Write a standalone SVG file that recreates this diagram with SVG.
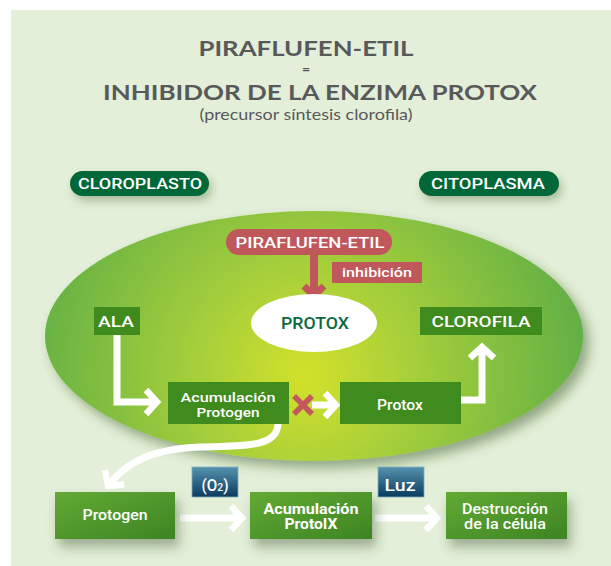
<svg xmlns="http://www.w3.org/2000/svg" width="611" height="566" viewBox="0 0 611 566">
<style>
.title{font-family:Lato,"Open Sans","Liberation Sans",sans-serif;font-weight:700;fill:#58595b;text-anchor:middle}
.sub{font-family:Lato,"Open Sans","Liberation Sans",sans-serif;font-weight:400;fill:#58595b;text-anchor:middle}
.lbl{font-family:Roboto,"Liberation Sans",sans-serif;font-weight:500;fill:#fff;text-anchor:middle}
.lblb{font-family:Roboto,"Liberation Sans",sans-serif;font-weight:700;fill:#fff;text-anchor:middle}
.arrow{fill:none;stroke:#fff;stroke-width:7;marker-end:url(#chev)}
.box{fill:#3f8b1d}
.bbox{fill:url(#boxg);filter:url(#bsh)}
</style>
<defs>
<radialGradient id="cellg" gradientUnits="userSpaceOnUse" cx="305" cy="375" r="290">
<stop offset="0" stop-color="#d2e12a"/>
<stop offset="0.35" stop-color="#a9d03a"/>
<stop offset="1" stop-color="#5fae46"/>
</radialGradient>
<linearGradient id="boxg" x1="0" y1="0" x2="1" y2="1">
<stop offset="0" stop-color="#62aa33"/>
<stop offset="1" stop-color="#3d8424"/>
</linearGradient>
<linearGradient id="blueg" x1="0" y1="0" x2="0" y2="1">
<stop offset="0" stop-color="#5593ae"/>
<stop offset="1" stop-color="#0a3a60"/>
</linearGradient>
<filter id="esh" x="-10%" y="-10%" width="125%" height="130%">
<feDropShadow dx="6" dy="7" stdDeviation="6" flood-color="#2c4f1c" flood-opacity="0.45"/>
</filter>
<filter id="psh" x="-20%" y="-50%" width="150%" height="250%">
<feDropShadow dx="3" dy="5" stdDeviation="4" flood-color="#3a5a2a" flood-opacity="0.35"/>
</filter>
<filter id="bsh" x="-20%" y="-30%" width="160%" height="200%">
<feDropShadow dx="4" dy="8" stdDeviation="6" flood-color="#2e4a22" flood-opacity="0.4"/>
</filter>
<marker id="chev" markerUnits="userSpaceOnUse" markerWidth="40" markerHeight="40" viewBox="-20 -20 40 40" refX="0" refY="0" orient="auto">
<path d="M -11 -12 L 0 0 L -11 12" fill="none" stroke="#fff" stroke-width="6.5" stroke-linejoin="miter"/>
</marker>
</defs>

<rect x="11" y="10" width="600" height="556" fill="#e3efd8"/>

<g id="title">
<text class="title" x="306" y="56" font-size="20" textLength="215" lengthAdjust="spacingAndGlyphs">PIRAFLUFEN-ETIL</text>
<text class="title" x="306" y="74" font-size="14">=</text>
<text class="title" x="320" y="100" font-size="21" textLength="434" lengthAdjust="spacingAndGlyphs">INHIBIDOR DE LA ENZIMA PROTOX</text>
<text class="sub" x="306" y="120" font-size="16" textLength="213" lengthAdjust="spacingAndGlyphs">(precursor síntesis clorofila)</text>
</g>

<g id="cloroplasto">
<rect x="70" y="171" width="139" height="25" rx="12.5" fill="#066737" filter="url(#psh)"/>
<text class="lbl" x="140" y="189" font-size="15" textLength="124" lengthAdjust="spacingAndGlyphs">CLOROPLASTO</text>
</g>
<g id="citoplasma">
<rect x="419" y="171" width="140" height="25" rx="12.5" fill="#066737" filter="url(#psh)"/>
<text class="lbl" x="488" y="189" font-size="15" textLength="114" lengthAdjust="spacingAndGlyphs">CITOPLASMA</text>
</g>

<g id="cell">
<ellipse cx="314" cy="336" rx="269" ry="125" fill="url(#cellg)" filter="url(#esh)"/>
</g>

<g id="connectors">
<path class="arrow" d="M 117 335 V 402 H 157"/>
<path class="arrow" d="M 312 405 H 336"/>
<path class="arrow" d="M 461 400 H 482 V 347"/>
<path class="arrow" stroke-width="8" d="M 278 423 C 278 446 250 446 200 447 C 152 449 126 462 108 486"/>
<path class="arrow" stroke-width="8" d="M 180 518 H 242"/>
<path class="arrow" stroke-width="8" d="M 375 518 H 437"/>
<path d="M 314 254 V 296" fill="none" stroke="#c0585b" stroke-width="8"/>
<path d="M 304 286 L 314 296 L 324 286" fill="none" stroke="#c0585b" stroke-width="7"/>
</g>

<g id="piraflufen">
<rect x="226" y="229" width="166" height="26" rx="13" fill="#c0585b"/>
<text class="lbl" x="310" y="248" font-size="15" textLength="149" lengthAdjust="spacingAndGlyphs">PIRAFLUFEN-ETIL</text>
</g>
<g id="inhibicion">
<rect x="332" y="262" width="90" height="21" fill="#c0585b"/>
<text class="lbl" x="377" y="277" font-size="13" textLength="70" lengthAdjust="spacingAndGlyphs">inhibición</text>
</g>

<g id="protox-enzyme">
<ellipse cx="314" cy="323" rx="63" ry="29" fill="#fff"/>
<text class="lbl" x="315" y="329" font-size="17" style="fill:#0b6a3c" textLength="68" lengthAdjust="spacingAndGlyphs">PROTOX</text>
</g>

<g id="ala">
<rect class="box" x="94" y="307" width="46" height="28"/>
<text class="lbl" x="116" y="327" font-size="15" textLength="36" lengthAdjust="spacingAndGlyphs">ALA</text>
</g>
<g id="clorofila">
<rect class="box" x="420" y="307" width="122" height="28"/>
<text class="lbl" x="481" y="327" font-size="15" textLength="99" lengthAdjust="spacingAndGlyphs">CLOROFILA</text>
</g>
<g id="acum-protogen">
<rect class="box" x="168" y="382" width="121" height="42"/>
<text class="lbl" x="228" y="402" font-size="13" textLength="95" lengthAdjust="spacingAndGlyphs">Acumulación</text>
<text class="lbl" x="228" y="417" font-size="13" textLength="63" lengthAdjust="spacingAndGlyphs">Protogen</text>
</g>
<g id="x-mark">
<path d="M 294 396 L 312 414 M 312 396 L 294 414" stroke="#c4585c" stroke-width="5.5" fill="none"/>
</g>
<g id="protox">
<rect class="box" x="340" y="382" width="121" height="42"/>
<text class="lbl" x="400" y="410" font-size="14" textLength="46" lengthAdjust="spacingAndGlyphs">Protox</text>
</g>

<g id="protogen">
<rect class="bbox" x="55" y="492" width="120" height="47"/>
<text class="lbl" x="115" y="520" font-size="14" textLength="65" lengthAdjust="spacingAndGlyphs">Protogen</text>
</g>
<g id="o2">
<rect x="192" y="467" width="46" height="30" fill="url(#blueg)" stroke="#7fb0b8" stroke-width="0.8"/>
<text class="lbl" x="215" y="491" font-size="16" textLength="27" lengthAdjust="spacingAndGlyphs">(O<tspan font-size="11">2</tspan>)</text>
</g>
<g id="acum-protoix">
<rect class="bbox" x="250" y="492" width="122" height="47"/>
<text class="lblb" x="311" y="514" font-size="14" textLength="95" lengthAdjust="spacingAndGlyphs">Acumulación</text>
<text class="lblb" x="311" y="529" font-size="14" textLength="53" lengthAdjust="spacingAndGlyphs">ProtoIX</text>
</g>
<g id="luz">
<rect x="378" y="467" width="46" height="30" fill="url(#blueg)" stroke="#7fb0b8" stroke-width="0.8"/>
<text class="lbl" x="400" y="491" font-size="17" textLength="31" lengthAdjust="spacingAndGlyphs">Luz</text>
</g>
<g id="destruccion">
<rect class="bbox" x="446" y="492" width="121" height="47"/>
<text class="lbl" x="505" y="514" font-size="14" textLength="86" lengthAdjust="spacingAndGlyphs">Destrucción</text>
<text class="lbl" x="505" y="529" font-size="14" textLength="82" lengthAdjust="spacingAndGlyphs">de la célula</text>
</g>
</svg>
